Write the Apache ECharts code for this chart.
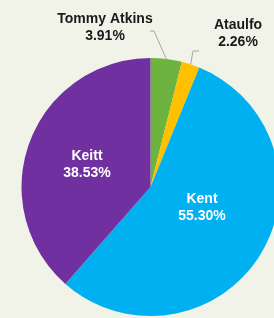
<!DOCTYPE html>
<html>
<head>
<meta charset="utf-8">
<script src="https://cdn.jsdelivr.net/npm/echarts@6/dist/echarts.min.js"></script>
<style>
html,body{margin:0;padding:0;background:#f2f3e8;}
#c{width:274px;height:318px;}
</style>
</head>
<body>
<div id="c"></div>
<script>
var categories = ['Tommy Atkins', 'Ataulfo', 'Kent', 'Keitt'];
var values = [3.91, 2.26, 55.30, 38.53];
var colors = ['#6db33f', '#ffc000', '#00b0f0', '#7030a0'];

// label placement (layout only)
var labelPos = [
  {x: 105, y: 28, line: [[154, 31], [150, 31]]},
  {x: 238, y: 34, line: [[193, 51], [199, 51]]},
  {x: 202, y: 208},
  {x: 87, y: 165}
];

var chart = echarts.init(document.getElementById('c'), null, {renderer: 'canvas'});
chart.setOption({
  backgroundColor: '#f2f3e8',
  animation: false,
  series: [{
    type: 'pie',
    center: [150.5, 187],
    radius: [0, 129],
    startAngle: 90,
    clockwise: true,
    avoidLabelOverlap: false,
    data: categories.map(function (c, i) {
      var outside = i < 2;
      return {
        name: c,
        value: values[i],
        itemStyle: {color: colors[i]},
        label: {
          position: outside ? 'outside' : 'inside',
          color: outside ? '#1a1a1a' : '#ffffff'
        },
        labelLine: {show: outside}
      };
    }),
    label: {
      show: true,
      formatter: function (p) { return p.name + '\n' + p.value.toFixed(2) + '%'; },
      fontFamily: 'Liberation Sans, Arial, sans-serif',
      fontWeight: 'bold',
      fontSize: 14,
      lineHeight: 17,
      align: 'center'
    },
    labelLine: {
      lineStyle: {color: '#a6a6a6', width: 1},
      length: 10,
      length2: 5
    },
    labelLayout: function (params) {
      var lp = labelPos[params.dataIndex];
      var res = {x: lp.x, y: lp.y, align: 'center', verticalAlign: 'middle'};
      if (lp.line && params.labelLinePoints) {
        res.labelLinePoints = [params.labelLinePoints[0], lp.line[0], lp.line[1]];
      }
      return res;
    },
    emphasis: {disabled: true}
  }]
});
</script>
</body>
</html>
